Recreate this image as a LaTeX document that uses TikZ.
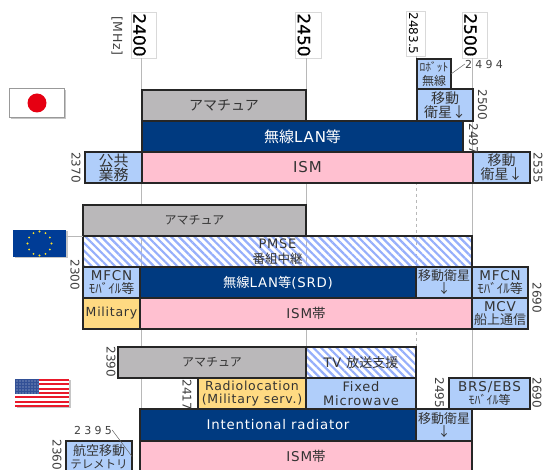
\documentclass[tikz,border=0pt]{standalone}
\usepackage{fontspec}
\setmainfont{DejaVu Sans}
\newfontfamily\jpfont{Noto Sans CJK JP}
\newfontfamily\numfont[LetterSpace=30]{DejaVu Sans}
\newfontfamily\latfont[LetterSpace=6]{DejaVu Sans}
\newfontfamily\axisfont[FakeBold=0.6]{DejaVu Sans}
\usetikzlibrary{positioning,shadows,patterns.meta}
\definecolor{hamgray}{RGB}{186,184,186}
\definecolor{lannavy}{RGB}{0,58,128}
\definecolor{ismpink}{RGB}{255,192,208}
\definecolor{mobblue}{RGB}{176,206,250}
\definecolor{milyellow}{RGB}{255,218,130}
\definecolor{flagred}{RGB}{230,0,18}
\definecolor{eublue}{RGB}{0,60,150}
\definecolor{eustar}{RGB}{255,225,40}
\definecolor{usblue}{RGB}{50,80,150}
\tikzset{
  cell/.style 2 args={draw=black!85,line width=1.1pt,anchor=north west,inner sep=0pt,outer sep=0pt,
    align=center,minimum width=#1pt,minimum height=#2pt,text=black!80},
  ham/.style={fill=hamgray,font=\jpfont\fontsize{14}{15}\selectfont},
  lan/.style={fill=lannavy,text=white,font=\fontsize{14}{15}\selectfont},
  ism/.style={fill=ismpink,font=\fontsize{13.5}{15}\selectfont},
  mob/.style={fill=mobblue,font=\fontsize{13.5}{13.5}\selectfont},
  mil/.style={fill=milyellow,font=\fontsize{12.5}{13.5}\selectfont},
  pmse/.style={pattern={Lines[angle=-45,distance=5.5pt,line width=2.2pt]},pattern color=mobblue!85!blue,
    font=\fontsize{13}{14.5}\selectfont},
  freq/.style={rotate=-90,inner sep=0pt,font=\fontsize{12}{12}\selectfont,text=black!75},
  hfreq/.style={inner sep=0pt,font=\numfont\fontsize{11}{11}\selectfont,text=black!75},
  axislabel/.style={rotate=-90,fill=white,draw=black!15,line width=.5pt,inner sep=0pt,
    minimum width=46pt,text height=23pt,text depth=2.5pt,font=\axisfont\fontsize{17}{17}\selectfont},
  axisline/.style={draw=black!28,line width=.8pt},
  flagbox/.style={anchor=north west,inner sep=0pt,outer sep=0pt,
    drop shadow={shadow xshift=1.5pt,shadow yshift=-1.5pt,opacity=.45}}
}
\begin{document}
\begin{tikzpicture}[x=1pt,y=-1pt]
  \path[use as bounding box,clip] (0,0) rectangle (544,470);
  % axis
  \node[axislabel] (f2400) at (143.5,35) {2400};
  \node[axislabel] (f2450) at (308,35) {2450};
  \node[axislabel,minimum width=45pt,text height=16pt,text depth=3pt,font=\fontsize{12}{12}\selectfont] (f2483) at (415.5,33.5) {2483.5};
  \node[axislabel] (f2500) at (474.5,35) {2500};
  \node[freq,font=\latfont\fontsize{12.5}{12.5}\selectfont] (mhz) at (117,36) {[MHz]};
  \coordinate (e2400) at (141,470);
  \coordinate (e2450) at (306,470);
  \coordinate (e2483) at (416.5,470);
  \coordinate (e2500) at (472,470);
  \draw[axisline] (141,58) -- (e2400);
  \draw[axisline] (306,58) -- (e2450);
  \draw[axisline,dashed,line width=.5pt] (416.5,56) -- (e2483);
  \draw[axisline] (472,58) -- (e2500);

  % japan
  \node[flagbox,draw=black!40,fill=white,minimum width=55pt,minimum height=29pt] (jpflag) at (9.5,88.5) {};
  \fill[flagred] (jpflag.center) circle (9.5);
  \node[cell={164}{31},ham] (jpham) at (142,90) {アマチュア};
  \node[cell={321}{31},lan,font=\fontsize{15}{15}\selectfont] (jplan) at (142,121) {{\jpfont 無線}{\latfont LAN}{\jpfont 等}};
  \node[cell={331}{31},ism,font=\fontsize{15}{15}\selectfont] (jpism) at (142,152) {\latfont ISM};
  \node[cell={57}{31},mob,font=\jpfont\fontsize{15}{14}\selectfont] (jppub) at (85,152) {公共\\業務};
  \node[cell={56}{32},mob,font=\jpfont\fontsize{14}{14}\selectfont] (jpsat) at (417,89) {移動\\衛星↓};
  \node[cell={34}{30},mob,font=\jpfont\fontsize{12}{13.5}\selectfont] (jprobot) at (417,59) {{\fontsize{11.5}{12}\selectfont ﾛﾎﾞｯﾄ}\\無線};
  \node[cell={57}{31},mob,font=\jpfont\fontsize{14}{14}\selectfont] (jpsat2) at (473,152) {移動\\衛星↓};
  \node[hfreq] (n2494) at (484,64) {2494};
  \draw[black!60,line width=.5pt] (n2494.west) -- (jprobot.east);
  \node[freq] (n2370) at (76,167.5) {2370};
  \node[freq] (n2500) at (482.5,105) {2500};
  \node[freq] (n2497) at (473.5,139) {2497};
  \node[freq] (n2535) at (538,168) {2535};

  % europe
  \node[flagbox,fill=eublue,minimum width=53pt,minimum height=27pt] (euflag) at (13,230) {};
  \foreach \a in {0,30,...,330} \fill[eustar] (euflag.center) ++(\a:12) circle (1.1);
  \node[cell={223}{31},ham,font=\jpfont\fontsize{12}{13}\selectfont] (euham) at (83,205) {アマチュア};
  \node[cell={389}{31},pmse] (eupmse) at (83,236) {{\latfont PMSE}\\{\jpfont\fontsize{12.5}{12.5}\selectfont 番組中継}};
  \draw[axisline,line width=.5pt] (euflag.east|-eupmse.north west) -- (eupmse.north west);
  \node[cell={57}{31},mob] (eumfcn) at (83,267) {\latfont MFCN\\{\jpfont\fontsize{13}{12}\selectfont ﾓﾊﾞｲﾙ等}};
  \node[cell={276}{31},lan,font=\fontsize{13.3}{14}\selectfont] (eulan) at (140,267) {{\jpfont 無線}{\latfont LAN}{\jpfont 等}{\latfont (SRD)}};
  \node[cell={56}{31},mob,font=\jpfont\fontsize{13}{13}\selectfont] (eusat) at (416,267) {移動衛星\\↓};
  \node[cell={56}{31},mob] (eumfcn2) at (472,267) {\latfont MFCN\\{\jpfont\fontsize{13}{12}\selectfont ﾓﾊﾞｲﾙ等}};
  \node[cell={57}{31},mil] (eumil) at (83,298) {\latfont Military};
  \node[cell={332}{31},ism] (euism) at (140,298) {{\latfont ISM}{\jpfont 帯}};
  \node[cell={56}{31},mob] (eumcv) at (472,298) {\latfont MCV\\{\jpfont\fontsize{13}{12.5}\selectfont 船上通信}};
  \node[freq] (n2300) at (75,275) {2300};
  \node[freq] (n2690) at (537,298) {2690};

  % usa
  \node[flagbox,fill=white,minimum width=54pt,minimum height=28pt] (usflag) at (15,379) {};
  \foreach \i in {0,2,...,12} \fill[flagred!90!white] (15,379+\i*2.154) rectangle (69,379+\i*2.154+2.154);
  \fill[usblue] (15,379) rectangle (39,394);
  \foreach \x in {17,20,...,38} \foreach \y in {381,384,...,393} \fill[white!70!usblue] (\x,\y) circle (.6);
  \node[cell={188}{31},ham,font=\jpfont\fontsize{12}{13}\selectfont] (usham) at (118,347) {アマチュア};
  \node[cell={110}{31},pmse] (ustv) at (306,347) {{\latfont TV }{\jpfont 放送支援}};
  \node[cell={108}{31},mil] (usrad) at (198,378) {\latfont Radiolocation\\\latfont (Military serv.)};
  \node[cell={110}{31},mob,font=\fontsize{13}{13.5}\selectfont] (usfix) at (306,378) {\latfont Fixed\\\latfont Microwave};
  \node[cell={276}{32},lan,font=\fontsize{13.3}{14}\selectfont] (uslan) at (140,409) {\latfont Intentional radiator};
  \node[cell={56}{32},mob,font=\jpfont\fontsize{13}{13}\selectfont] (ussat) at (416,409) {移動衛星\\↓};
  \node[cell={332}{31},ism] (usism) at (140,441) {{\latfont ISM}{\jpfont 帯}};
  \node[cell={81}{31},mob] (usbrs) at (449,378) {\latfont BRS/EBS\\{\jpfont\fontsize{12}{12}\selectfont ﾓﾊﾞｲﾙ等}};
  \node[cell={66}{31},mob,font=\jpfont\fontsize{13}{13}\selectfont] (usaero) at (66,441) {航空移動\\{\fontsize{11.5}{12}\selectfont テレメトリ}};
  \node[hfreq] (n2395) at (93,430) {2395};
  \draw[black!60,line width=.5pt] (n2395.east) -- (usaero.east);
  \node[freq] (n2390) at (111,362) {2390};
  \node[freq] (n2417) at (187,395) {2417};
  \node[freq] (n2495) at (439.5,393) {2495};
  \node[freq] (n2690b) at (537,393) {2690};
  \node[freq] (n2360) at (57,455) {2360};
\end{tikzpicture}
\end{document}
